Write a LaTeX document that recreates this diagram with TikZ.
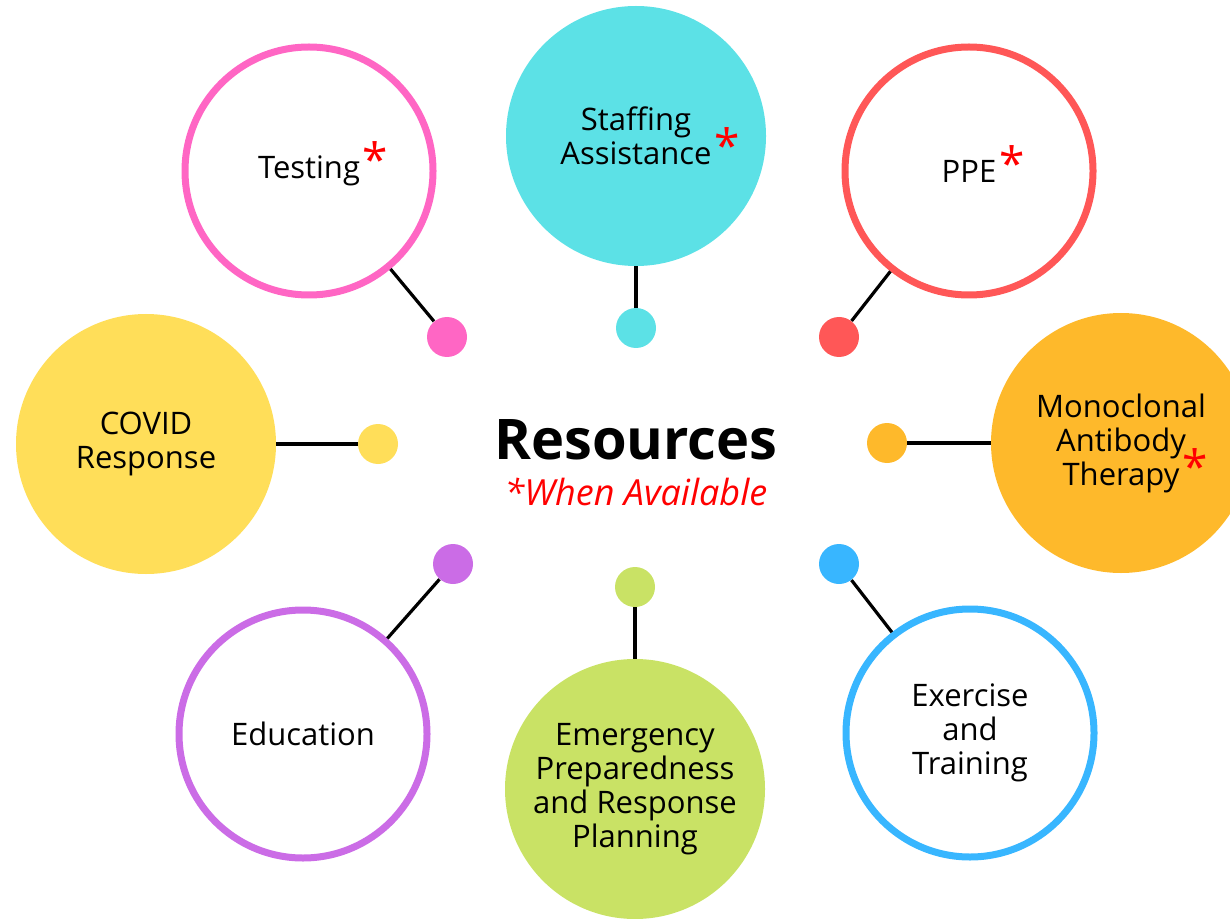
\documentclass[tikz,border=0pt]{standalone}
\usepackage{fontspec}
\setmainfont{Open Sans}

\definecolor{pinkring}{HTML}{FF66C4}
\definecolor{cyandisc}{HTML}{5CE1E6}
\definecolor{redring}{HTML}{FF5757}
\definecolor{orangedisc}{HTML}{FEB92B}
\definecolor{yellowdisc}{HTML}{FFDE59}
\definecolor{purplering}{HTML}{CB6CE6}
\definecolor{greendisc}{HTML}{C9E265}
\definecolor{bluering}{HTML}{38B6FF}

\newcommand{\whenavail}{\rlap{\kern1.5pt\smash{\raisebox{1pt}{\textcolor{red}{\fontsize{23}{23}\selectfont *}}}}}

\tikzset{
  topic/.style={circle, inner sep=0pt, align=center, font=\fontsize{15.5}{17}\selectfont},
  ring/.style={topic, draw=#1, line width=3.5pt, fill=white, minimum size=124pt},
  disc/.style={topic, fill=#1, minimum size=130pt},
  knob/.style={circle, fill=#1, inner sep=0pt, minimum size=20pt},
  stem/.style={line width=1.6pt, black}
}

\begin{document}
\begin{tikzpicture}[x=0.5pt, y=-0.5pt]
\useasboundingbox (0,0) rectangle (1230,919);
% big circles
\node[ring=pinkring] (testing) at (309,171) {Testing\whenavail};
\node[disc=cyandisc] (staffing) at (636,136) {Staffing\\Assistance\whenavail};
\node[ring=redring] (ppe) at (969,171) {PPE\whenavail};
\node[disc=orangedisc] (mab) at (1121,443) {Monoclonal\\Antibody\\Therapy\whenavail};
\node[disc=yellowdisc] (covid) at (146,444) {COVID\\Response};
\node[ring=purplering] (education) at (303,734) {Education};
\node[disc=greendisc] (eprp) at (635,789) {Emergency\\Preparedness\\and Response\\Planning};
\node[ring=bluering] (exercise) at (970,733) {Exercise\\and\\Training};
% small dots
\node[knob=pinkring] (ktesting) at (447,337) {};
\node[knob=cyandisc] (kstaffing) at (636,328) {};
\node[knob=redring] (kppe) at (839,337) {};
\node[knob=orangedisc] (kmab) at (887,443) {};
\node[knob=yellowdisc] (kcovid) at (378,444) {};
\node[knob=purplering] (keducation) at (453,564) {};
\node[knob=greendisc] (keprp) at (635,587) {};
\node[knob=bluering] (kexercise) at (839,564) {};
% stems
\draw[stem] (ktesting) -- (testing);
\draw[stem] (kstaffing) -- (staffing);
\draw[stem] (kppe) -- (ppe);
\draw[stem] (kmab) -- (mab);
\draw[stem] (kcovid) -- (covid);
\draw[stem] (keducation) -- (education);
\draw[stem] (keprp) -- (eprp);
\draw[stem] (kexercise) -- (exercise);
% centre
\node[font=\bfseries\fontsize{28}{28}\selectfont] (title) at (636,440) {Resources};
\node[font=\itshape\fontsize{18}{18}\selectfont, text=red] (subtitle) at (636,492) {*When Available};
\end{tikzpicture}
\end{document}
